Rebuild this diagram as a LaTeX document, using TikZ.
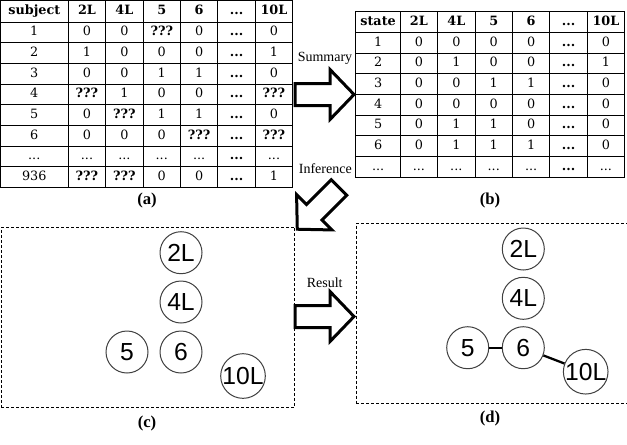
\documentclass[tikz,border=0pt]{standalone}
\usepackage{fontspec}
\setmainfont{DejaVu Serif}
\newfontfamily\labelfont{Liberation Serif}
\newfontfamily\circfont{Liberation Sans}
\usetikzlibrary{matrix,positioning}

\newcommand\tabfont{\fontsize{9.6}{11}\selectfont}

\begin{document}
\begin{tikzpicture}[
x=0.75pt, y=-0.75pt,
tbl/.style={matrix of nodes, inner sep=0pt, column sep=-0.75pt, row sep=-0.75pt,
  nodes={draw, line width=0.75pt, inner sep=0pt, anchor=center, minimum width=28.05pt,
    minimum height=15.5pt, text height=7pt, text depth=2pt, font=\tabfont},
  row 1/.style={nodes={font=\tabfont\bfseries}},
  column 6/.style={nodes={font=\tabfont\bfseries}}},
note/.style={font=\labelfont\fontsize{10.5}{12}\selectfont, inner sep=0pt},
caption/.style={font=\labelfont\bfseries\fontsize{12.5}{14}\selectfont, inner sep=0pt},
frame/.style={draw, dash pattern=on 2.25pt off 1.5pt, line width=0.75pt, inner sep=0pt, anchor=north west},
varnode/.style={circle, draw=black!75, line width=0.75pt, fill=white, minimum size=31.5pt,
  inner sep=0pt, font=\circfont\fontsize{18.5}{20}\selectfont},
link/.style={line width=1.7pt},
fatarrow/.pic={\draw[line width=2.25pt, fill=white, line join=miter]
  (0,-11) -- (35,-11) -- (35,-25) -- (59,0) -- (35,25) -- (35,11) -- (0,11) -- cycle;}
]
\useasboundingbox (0,0) rectangle (627,444);

% raw data
\matrix[tbl, anchor=north west, row 1/.append style={nodes={minimum height=16.5pt}},
  column 1/.style={nodes={minimum width=51pt}}] (ta) at (-0.5,-0.5) {
subject & 2L & 4L & 5 & 6 & ... & 10L \\
1 & 0 & 0 & \textbf{???} & 0 & ... & 0 \\
2 & 1 & 0 & 0 & 0 & ... & 1 \\
3 & 0 & 0 & 1 & 1 & ... & 0 \\
4 & \textbf{???} & 1 & 0 & 0 & ... & \textbf{???} \\
5 & 0 & \textbf{???} & 1 & 1 & ... & 0 \\
6 & 0 & 0 & 0 & \textbf{???} & ... & \textbf{???} \\
... & ... & ... & ... & ... & ... & ... \\
936 & \textbf{???} & \textbf{???} & 0 & 0 & ... & 1 \\
};
\node[caption] (capa) at (147,200.5) {(a)};

% summarised states
\matrix[tbl, anchor=north west, column 1/.style={nodes={minimum width=33.2pt}}] (tb) at (355.2,11.2) {
state & 2L & 4L & 5 & 6 & ... & 10L \\
1 & 0 & 0 & 0 & 0 & ... & 0 \\
2 & 0 & 1 & 0 & 0 & ... & 1 \\
3 & 0 & 0 & 1 & 1 & ... & 0 \\
4 & 0 & 0 & 0 & 0 & ... & 0 \\
5 & 0 & 1 & 1 & 0 & ... & 0 \\
6 & 0 & 1 & 1 & 1 & ... & 0 \\
... & ... & ... & ... & ... & ... & ... \\
};
\node[caption] (capb) at (490,200) {(b)};

% arrows between panels
\pic at (295,94.5) {fatarrow};
\node[note] (summary) at (325,58.5) {Summary};
\pic[rotate=225] at (339,187.5) {fatarrow};
\node[note] (inference) at (325.3,169) {Inference};
\pic at (295,316.5) {fatarrow};
\node[note] (result) at (324.7,283) {Result};

% variables before inference
\node[frame, minimum width=220pt, minimum height=135.5pt] (boxc) at (0.7,226.7) {};
\node[varnode] (c2L) at (181,252.7) {2L};
\node[varnode] (c4L) at (181,302) {4L};
\node[varnode] (c5) at (127,352) {5};
\node[varnode] (c6) at (181,352) {6};
\node[varnode] (c10L) at (243,376) {10L};
\node[caption] (capc) at (147,423) {(c)};

% learned structure
\node[frame, minimum width=203.25pt, minimum height=135.5pt] (boxd) at (355.7,222.7) {};
\node[varnode] (d2L) at (523.3,249) {2L};
\node[varnode] (d4L) at (523.3,298.3) {4L};
\node[varnode] (d5) at (467.7,347.7) {5};
\node[varnode] (d6) at (523.3,347.7) {6};
\node[varnode] (d10L) at (585.7,371.7) {10L};
\draw[link] (d5) -- (d6);
\draw[link] (d6) -- (d10L);
\node[caption] (capd) at (490,418) {(d)};
\end{tikzpicture}
\end{document}
